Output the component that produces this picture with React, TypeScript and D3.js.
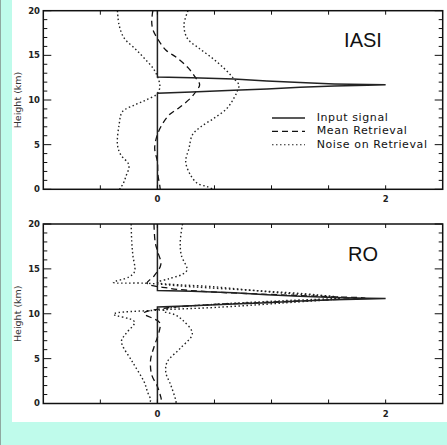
import React from "react";
import * as d3 from "d3";

// ---- data ----
const xDomain: [number, number] = [-1, 2.5];
const hDomain: [number, number] = [0, 20];
const xTicks = [-0.5, 0, 0.5, 1, 1.5, 2];
const xTickLabels = [0, 2];
const hMajorTicks = [0, 5, 10, 15, 20];
const hMinorTicks = d3.range(0, 21, 1).filter((v) => v % 5 !== 0);

// input signal (same in both panels): [value, height km]
const inputSignal: [number, number][] = [
  [0, 0], [0, 10.75], [0.3, 10.9], [0.67, 11.1], [0.96, 11.23], [1.25, 11.42], [1.55, 11.57],
  [1.84, 11.65], [2.0, 11.7], [1.84, 11.73], [1.55, 11.8], [1.25, 11.95], [0.96, 12.13],
  [0.67, 12.35], [0.3, 12.5], [0, 12.58], [0, 20],
];

const iasiMean: [number, number][] = [
  [-0.04, 20], [-0.05, 18.8], [-0.04, 17.9], [0, 16.9], [0.073, 15.6], [0.175, 14.7],
  [0.27, 13.6], [0.335, 12.5], [0.37, 11.7], [0.34, 11.0], [0.29, 10.2], [0.19, 9.14],
  [0.1, 8.3], [0.03, 7.0], [-0.006, 5.9], [-0.024, 4.6], [-0.01, 3.65], [0, 3.1],
  [0.005, 1.6], [0.02, 0.48], [0.025, 0],
];
const iasiNoiseLeft: [number, number][] = [
  [-0.35, 20], [-0.336, 18.4], [-0.29, 16.9], [-0.2, 15.8], [-0.117, 14.7], [-0.03, 13.4],
  [0.015, 12.1], [0.02, 11.3], [-0.01, 10.6], [-0.1, 10.0], [-0.2, 9.44], [-0.306, 8.7],
  [-0.336, 7.2], [-0.35, 4.96], [-0.32, 3.84], [-0.25, 2.72], [-0.277, 1.41],
  [-0.306, 0.48], [-0.33, 0.1], [-0.32, 0],
];
const iasiNoiseRight: [number, number][] = [
  [0.268, 20], [0.233, 18.4], [0.262, 16.9], [0.364, 15.8], [0.48, 14.7], [0.58, 13.6],
  [0.665, 12.46], [0.714, 11.68], [0.7, 11.0], [0.67, 10.2], [0.61, 9.07], [0.495, 7.95],
  [0.38, 7.0], [0.306, 6.08], [0.277, 4.6], [0.248, 3.1], [0.29, 1.6], [0.35, 0.67],
  [0.437, 0.29], [0.49, 0],
];

const roMean: [number, number][] = [
  [-0.03, 20], [-0.02, 18], [0, 17], [0.03, 15.5], [-0.03, 14.2], [-0.09, 13.4],
  [0.1, 12.85], [0.45, 12.45], [1.0, 12.15], [1.5, 11.9], [1.82, 11.75], [1.5, 11.55],
  [1.0, 11.3], [0.45, 11.0], [0.05, 10.6], [-0.12, 10.05], [0.02, 9.0], [0.015, 8.0],
  [-0.03, 6.3], [-0.06, 4.85], [-0.05, 3.2], [0.0, 1.9], [0.03, 0.7], [0.04, 0],
];
const roNoiseLeft: [number, number][] = [
  [-0.23, 20], [-0.225, 18], [-0.215, 16.5], [-0.2, 14.7], [-0.25, 14.1], [-0.385, 13.5],
  [-0.1, 13.4], [0.3, 13.0], [0.9, 12.55], [1.4, 12.1], [1.6, 11.75], [1.1, 11.2],
  [0.5, 10.7], [0, 10.4], [-0.385, 9.95], [-0.2, 9.1], [-0.275, 7.8], [-0.315, 6.9],
  [-0.22, 4.66], [-0.117, 2.43], [-0.087, 1.3], [-0.06, 0.4], [-0.07, 0],
];
const roNoiseRight: [number, number][] = [
  [0.22, 20], [0.2, 18], [0.21, 16.5], [0.26, 14.9], [0.22, 14.4], [0.1, 13.9],
  [0.0, 13.5], [0.5, 13.0], [1.1, 12.3], [1.6, 11.8], [1.1, 11.45], [0.5, 11.05],
  [0.1, 10.6], [0.05, 10.3], [0.15, 9.9], [0.22, 9.3], [0.306, 7.8], [0.2, 6.15],
  [0.087, 4.66], [0.073, 3.5], [0.117, 2.06], [0.16, 0.4], [0.165, 0],
];

const legendLabels = ["Input signal", "Mean Retrieval", "Noise on Retrieval"];

// ---- layout ----
const W = 447;
const H = 445;
const left = 43.3;
const right = 442.7;

type PanelDef = {
  title: string;
  top: number;
  bottom: number;
  mean: [number, number][];
  nl: [number, number][];
  nr: [number, number][];
  legend: boolean;
};

const panels: PanelDef[] = [
  { title: "IASI", top: 10.7, bottom: 189.3, mean: iasiMean, nl: iasiNoiseLeft, nr: iasiNoiseRight, legend: true },
  { title: "RO", top: 224, bottom: 403.5, mean: roMean, nl: roNoiseLeft, nr: roNoiseRight, legend: false },
];

const STYLE_SOLID = { stroke: "#222", strokeWidth: 1.5, fill: "none" };
const STYLE_DASH = { stroke: "#111", strokeWidth: 1.3, fill: "none", strokeDasharray: "6,4" };
const STYLE_DOT = { stroke: "#222", strokeWidth: 1.4, fill: "none", strokeDasharray: "1.5,2.5" };

function Panel({ p }: { p: PanelDef }) {
  const x = d3.scaleLinear().domain(xDomain).range([left, right]);
  const y = d3.scaleLinear().domain(hDomain).range([p.bottom, p.top]);
  const linLine = d3.line<[number, number]>().x((d) => x(d[0])).y((d) => y(d[1]));
  const smooth = d3
    .line<[number, number]>()
    .x((d) => x(d[0]))
    .y((d) => y(d[1]))
    .curve(d3.curveCatmullRom.alpha(0.5));
  const tickFont = { fontFamily: "DejaVu Sans, sans-serif", fontSize: 8.5, fontWeight: "bold", fill: "#222" };
  return (
    <g>
      {/* data */}
      <path d={smooth(p.nl) || ""} style={STYLE_DOT as any} />
      <path d={smooth(p.nr) || ""} style={STYLE_DOT as any} />
      <path d={smooth(p.mean) || ""} style={STYLE_DASH as any} />
      <path d={linLine(inputSignal) || ""} style={STYLE_SOLID as any} />
      {/* frame */}
      <rect x={left} y={p.top} width={right - left} height={p.bottom - p.top} fill="none" stroke="#111" strokeWidth={1.5} />
      {/* x ticks */}
      {xTicks.map((t) => (
        <g key={"xt" + t}>
          <line x1={x(t)} x2={x(t)} y1={p.bottom} y2={p.bottom - 4} stroke="#111" strokeWidth={1} />
          <line x1={x(t)} x2={x(t)} y1={p.top} y2={p.top + 4} stroke="#111" strokeWidth={1} />
        </g>
      ))}
      {xTickLabels.map((t) => (
        <text key={"xl" + t} x={x(t)} y={p.bottom + 13} textAnchor="middle" style={tickFont as any}>
          {t}
        </text>
      ))}
      {/* y ticks */}
      {hMajorTicks.map((t) => (
        <g key={"ym" + t}>
          <line x1={left} x2={left + 8} y1={y(t)} y2={y(t)} stroke="#111" strokeWidth={1} />
          <line x1={right} x2={right - 8} y1={y(t)} y2={y(t)} stroke="#111" strokeWidth={1} />
          <text x={40} y={y(t)} dy="0.35em" textAnchor="end" style={tickFont as any}>
            {t}
          </text>
        </g>
      ))}
      {hMinorTicks.map((t) => (
        <g key={"yn" + t}>
          <line x1={left} x2={left + 4} y1={y(t)} y2={y(t)} stroke="#111" strokeWidth={1} />
          <line x1={right} x2={right - 4} y1={y(t)} y2={y(t)} stroke="#111" strokeWidth={1} />
        </g>
      ))}
      <text
        transform={`translate(21,${(p.top + p.bottom) / 2}) rotate(-90)`}
        textAnchor="middle"
        style={{ fontFamily: "DejaVu Sans, sans-serif", fontSize: 9.5, fill: "#333" }}
      >
        Height (km)
      </text>
      <text x={363} y={p.top + 36.5} textAnchor="middle" style={{ fontFamily: "Liberation Sans, Arial, sans-serif", fontSize: 20, fill: "#111" }}>
        {p.title}
      </text>
      {p.legend &&
        legendLabels.map((lab, i) => {
          const ly = 118 + i * 13.4;
          const st = i === 0 ? STYLE_SOLID : i === 1 ? STYLE_DASH : STYLE_DOT;
          return (
            <g key={lab}>
              <line x1={272} x2={305} y1={ly} y2={ly} style={{ ...(st as any), strokeWidth: i === 0 ? 1.3 : 1.1 }} />
              <text
                x={316.7}
                y={ly + 2.8}
                style={{ fontFamily: "DejaVu Sans, sans-serif", fontSize: 11, letterSpacing: 0.6, fill: "#111" }}
              >
                {lab}
              </text>
            </g>
          );
        })}
    </g>
  );
}

export default function App() {
  return (
    <svg width={W} height={H} style={{ position: "absolute", left: 0, top: 0 }}>
      <rect x={0} y={0} width={W} height={H} fill="#bffbeb" />
      <line x1={0.5} x2={0.5} y1={0} y2={H} stroke="#8fa8a0" strokeWidth={1} />
      <rect x={12} y={0} width={W - 12} height={422} fill="#ffffff" />
      {panels.map((p) => (
        <Panel key={p.title} p={p} />
      ))}
    </svg>
  );
}
